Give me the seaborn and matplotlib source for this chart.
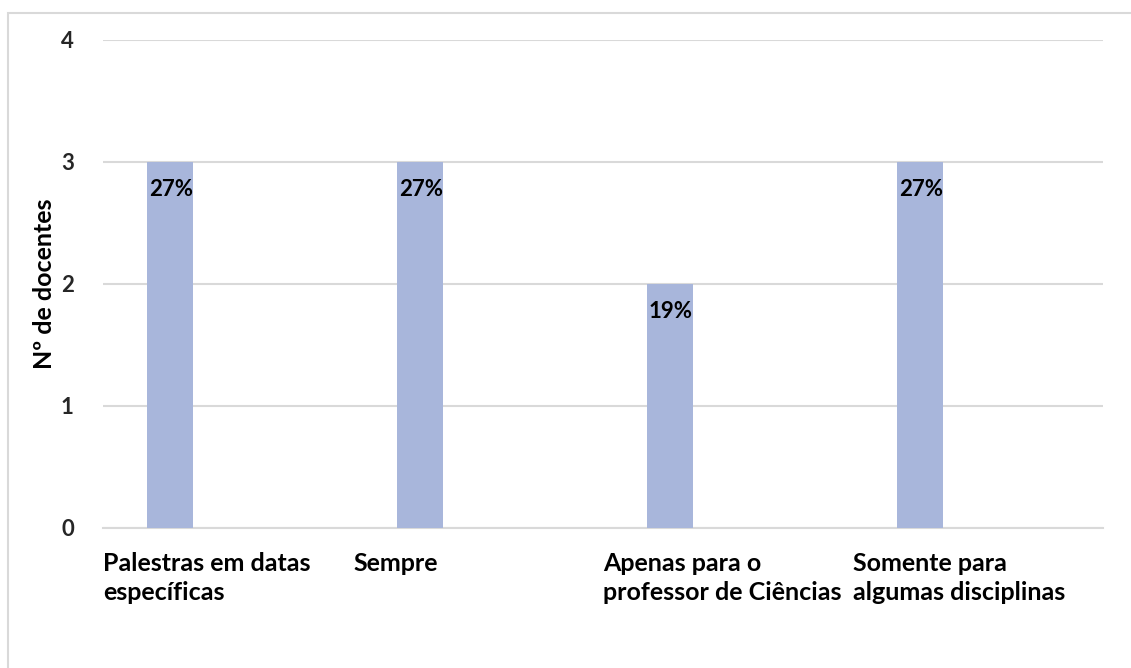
import matplotlib
matplotlib.use("Agg")
import matplotlib.pyplot as plt
import matplotlib.transforms as mtransforms
from matplotlib.patches import Rectangle
import seaborn as sns
import pandas as pd

categories = [
    "Palestras em datas\nespecíficas",
    "Sempre",
    "Apenas para o\nprofessor de Ciências",
    "Somente para\nalgumas disciplinas",
]
docentes = [3, 3, 2, 3]
percent_labels = ["27%", "27%", "19%", "27%"]
y_ticks = [0, 1, 2, 3, 4]

sns.set_theme(style="white")
plt.rcParams["font.family"] = ["Lato", "DejaVu Sans"]
plt.rcParams["font.weight"] = "bold"

W, H, DPI = 1131, 668, 100
fig = plt.figure(figsize=(W / DPI, H / DPI), dpi=DPI)
fig.patch.set_facecolor("white")

# chart frame (left and top edges visible)
top = 1 - 13 / H
fig.patches.append(Rectangle((8 / W, -0.5), 1.2, top + 0.5, transform=fig.transFigure,
                             fill=False, edgecolor="#d9d9d9", linewidth=1.5, zorder=0))

ax = fig.add_axes([103 / W, 1 - 528 / H, 1000 / W, 488 / H])

df = pd.DataFrame({"categoria": categories, "docentes": docentes})
sns.barplot(data=df, x="categoria", y="docentes", order=categories,
            color="#a8b6db", saturation=1, width=0.184, linewidth=0,
            ax=ax, zorder=3)

# each category slot starts a bit to the left of its bar
slot_offset = 0.268
ax.set_xlim(-slot_offset, len(categories) - slot_offset)
ax.set_ylim(0, 4)
ax.set_yticks(y_ticks)
ax.set_yticklabels([str(t) for t in y_ticks], fontsize=16, fontweight="bold")
ax.tick_params(axis="y", length=0, pad=21)
ax.yaxis.grid(True, color="#d9d9d9", linewidth=1.5, zorder=0)
ax.xaxis.grid(False)
for s in ["top", "right", "left"]:
    ax.spines[s].set_visible(False)
ax.spines["bottom"].set_color("#d9d9d9")
ax.spines["bottom"].set_linewidth(1.5)

# category labels, left-aligned at the start of each slot
ax.set_xticks([])
ax.set_xlabel("")
trans = mtransforms.blended_transform_factory(ax.transData, ax.transAxes)
for i, lab in enumerate(categories):
    ax.text(i - slot_offset, -0.05, lab, transform=trans, ha="left", va="top",
            fontsize=18, fontweight="bold", color="black", linespacing=1.32,
            clip_on=False)

ax.set_ylabel("Nº de docentes", fontsize=18, fontweight="bold", color="black")
ax.yaxis.label.set_va("center")
ax.yaxis.set_label_coords(-0.058, 0.5)

# value labels inside the bars, just below the top
for patch, lab in zip(ax.patches, percent_labels):
    ax.annotate(lab, (patch.get_x(), patch.get_height()), xytext=(1.2, -12),
                textcoords="offset points", ha="left", va="top",
                fontsize=16, fontweight="bold", color="black", zorder=4)

fig.savefig("out.png", dpi=DPI, facecolor="white")
